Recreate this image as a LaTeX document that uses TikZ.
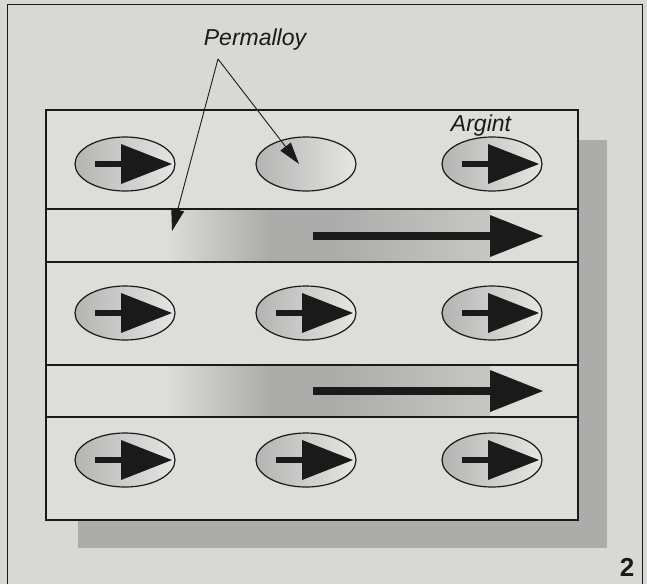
\documentclass[tikz,border=0pt]{standalone}
\usepackage{fontspec}
\setmainfont{Liberation Sans}
\usetikzlibrary{arrows.meta,shapes.geometric}
\definecolor{paper}{HTML}{D8D8D4}
\definecolor{boxin}{HTML}{DDDDD9}
\definecolor{shadowc}{HTML}{ACACAA}
\definecolor{stripd}{HTML}{ABABA9}
\definecolor{ink}{HTML}{1A1A1A}
\definecolor{ellL}{HTML}{B4B4B2}
\definecolor{ellR}{HTML}{E6E6E3}
\begin{document}
\begin{tikzpicture}[x=1pt,y=-1pt,
  frame/.style={draw=ink, line width=1pt},
  boxline/.style={draw=ink, line width=1.3pt},
  cell/.style={ellipse, draw=ink, line width=1.2pt, minimum width=100pt, minimum height=54pt, inner sep=0pt, left color=ellL, right color=ellR},
  pointer/.style={draw=ink, line width=0.9pt, -{Triangle[length=22pt, width=13pt]}},
  lab/.style={font=\fontsize{23}{23}\selectfont\itshape, text=ink, inner sep=0pt},
  smallarr/.pic={\fill[ink] (-30,-3) rectangle (-4,3); \fill[ink] (-4,-20) -- (47,0) -- (-4,20) -- cycle;},
  bigarr/.pic={\fill[ink] (0,-4) rectangle (177,4); \fill[ink] (177,-21) -- (230,0) -- (177,21) -- cycle;}
]
\useasboundingbox (0,0) rectangle (647,584);
\fill[paper] (0,0) rectangle (647,584);
% outer frame
\draw[frame] (7,584) -- (7,4) -- (642,4) -- (642,584);
% drop shadow
\fill[shadowc] (78,140) rectangle (607,548);
% box
\fill[boxin] (46,110) rectangle (578,520);
% strip shadings
\foreach \ya/\yb in {210/261, 366/416}{
  \shade[left color=boxin, right color=stripd] (165,\ya) rectangle (270,\yb);
  \fill[stripd] (270,\ya) rectangle (330,\yb);
  \shade[left color=stripd, right color=stripd!45!boxin] (330,\ya) rectangle (490,\yb);
}
% box outline and rows
\draw[boxline] (46,110) rectangle (578,520);
\draw[boxline] (46,209) -- (578,209);
\draw[boxline] (46,262) -- (578,262);
\draw[boxline] (46,365) -- (578,365);
\draw[boxline] (46,417) -- (578,417);
% ellipses
\node[cell] (e11) at (125,164) {};
\node[cell] (e12) at (306,164) {};
\node[cell] (e13) at (492,164) {};
\node[cell] (e31) at (125,313) {};
\node[cell] (e32) at (306,313) {};
\node[cell] (e33) at (492,313) {};
\node[cell] (e51) at (125,460) {};
\node[cell] (e52) at (306,460) {};
\node[cell] (e53) at (492,460) {};
\foreach \n in {e11,e13,e31,e32,e33,e51,e52,e53}{\pic at (\n.center) {smallarr};}
% big arrows in strips
\coordinate (s1) at (313,236);
\coordinate (s2) at (313,391);
\pic at (s1) {bigarr};
\pic at (s2) {bigarr};
% labels
\node[lab, anchor=base] (perm) at (255,45) {Permalloy};
\node[lab, anchor=base] (arg) at (481,131) {Argint};
\node[font=\fontsize{26}{26}\selectfont\bfseries, text=ink, inner sep=0pt] (num) at (627,567) {2};
% pointers
\coordinate (apex) at (218,59);
\coordinate (tipA) at (172,231);
\coordinate (tipB) at (299,164);
\draw[pointer] (apex) -- (tipA);
\draw[pointer] (apex) -- (tipB);
\end{tikzpicture}
\end{document}
